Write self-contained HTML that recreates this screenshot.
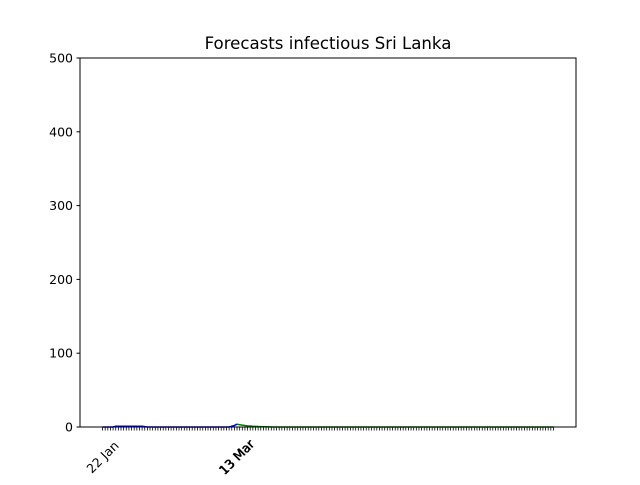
<!DOCTYPE html>
<html><head><meta charset="utf-8"><style>
body{margin:0;background:#fff;font-family:"Liberation Sans","DejaVu Sans",sans-serif;}
</style></head><body>
<svg id="chart" width="640" height="480" xmlns="http://www.w3.org/2000/svg" font-family="DejaVu Sans, Liberation Sans, sans-serif">
<rect width="640" height="480" fill="#fff"/>
<text x="328" y="49" font-size="16.6" text-anchor="middle">Forecasts infectious Sri Lanka</text>
<g id="ticks"></g><g id="series"></g>
<rect x="80" y="58" width="496" height="369" fill="none" stroke="#000" stroke-width="1"/>
</svg>
<script>
const yTicks=[0,100,200,300,400,500];
const nDays=172;
const histValues=[0,0,0,0,0,1,1,1,1,1,1,1,1,1,1,1,0.5,0,0,0,0,0,0,0,0,0,0,0,0,0,0,0,0,0,0,0,0,0,0,0,0,0,0,0,0,0,0,0,0,1,2,4];
const forecastValues=[4,3,2.5,2,1.6,1.3,1,0.8,0.6,0.5,0.4,0.3,0.2,0.1];
const dateLabels=[{i:0,t:"22 Jan"},{i:51,t:"13 Mar"},{i:50.7,t:"13 Mar"}];
const ns="http://www.w3.org/2000/svg";
const L=80,R=576,T=58,B=427;
const span=nDays-1;
const xs=i=>L+(i+0.05*span)/(span*1.1)*(R-L);
const ys=v=>B-v/500*(B-T);
const svg=document.getElementById('chart');
const tg=document.getElementById('ticks'), sg=document.getElementById('series');
function mk(tag,a,p){const e=document.createElementNS(ns,tag);for(const k in a)e.setAttribute(k,a[k]);p.appendChild(e);return e;}
yTicks.forEach(v=>{
  const l=mk('line',{x1:L-3.5,x2:L,y1:ys(v),y2:ys(v),stroke:'#000'},tg);
  
  
  const t=mk('text',{x:L-7,y:ys(v)+4.5,'font-size':12.5,'text-anchor':'end'},tg);t.textContent=v;
  
  
});
for(let i=0;i<nDays;i++){
  const l=mk('line',{x1:xs(i),x2:xs(i),y1:B,y2:B+3.5,stroke:'#000','stroke-width':0.8},tg);
  
  
}
dateLabels.forEach(d=>{
  const x=xs(d.i),y=B+30;
  const t=mk('text',{x:x,y:y+4.5,'font-size':12.5,'text-anchor':'middle',transform:`rotate(-45 ${x} ${y})`},tg);t.textContent=d.t;
  
  
});
const hp=histValues.map((v,i)=>xs(i)+','+ys(v)).join(' ');
const h=mk('polyline',{points:hp,fill:'none',stroke:'#0000ff','stroke-width':1.5},sg);


const s0=histValues.length-1;
const fp=[];for(let i=s0;i<nDays;i++){const v=i-s0<forecastValues.length?forecastValues[i-s0]:0;fp.push(xs(i)+','+ys(v));}
const f=mk('polyline',{points:fp.join(' '),fill:'none',stroke:'#008000','stroke-width':1.5},sg);


</script>
</body></html>
